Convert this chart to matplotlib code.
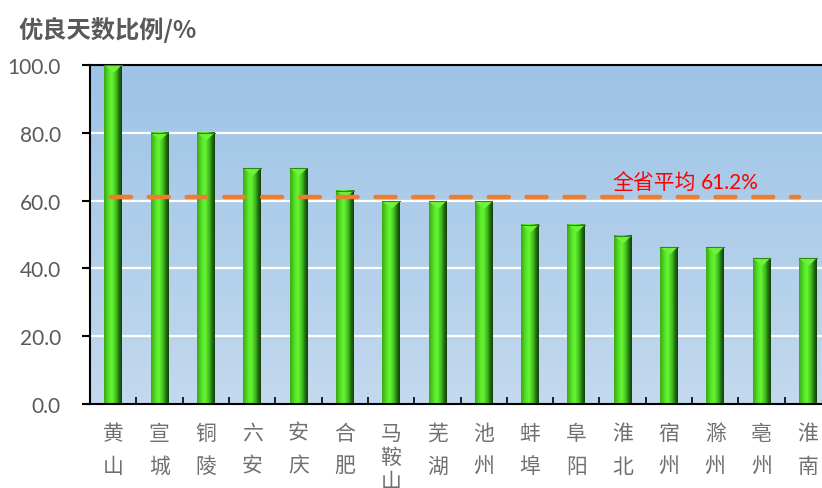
import numpy as np
import matplotlib
matplotlib.use("Agg")
import matplotlib.pyplot as plt
from matplotlib.colors import LinearSegmentedColormap
from matplotlib.patches import Polygon

plt.rcParams['font.family'] = ['Noto Sans CJK SC', 'DejaVu Sans']

cities = ["黄山", "宣城", "铜陵", "六安", "安庆", "合肥", "马鞍山", "芜湖", "池州",
          "蚌埠", "阜阳", "淮北", "宿州", "滁州", "亳州", "淮南"]
values = [100.0, 80.0, 80.0, 69.6, 69.6, 62.9, 59.8, 59.8, 59.8,
          52.9, 52.9, 49.6, 46.3, 46.3, 43.0, 43.0]
avg = 61.2
yticks = [0, 20, 40, 60, 80, 100]

fig = plt.figure(figsize=(8.22, 4.89), dpi=100)
ax = fig.add_axes([90/822, 1-405/489, 741/822, 339/489])

n = len(cities)
x = np.arange(n)
ax.set_xlim(-0.5, n-0.5)
ax.set_ylim(0, 100)

# background gradient
bg = LinearSegmentedColormap.from_list("bg", ["#c3d9ee", "#9dc3e6"])
ax.imshow(np.linspace(0, 1, 256).reshape(-1, 1), cmap=bg, aspect='auto',
          extent=(-0.5, n-0.5, 0, 100), origin='lower', zorder=0)

for t in yticks[1:-1]:
    ax.axhline(t, color='white', lw=1.6, zorder=1)

# bars with horizontal gradient shading
w = 0.38
bar_cmap = LinearSegmentedColormap.from_list(
    "bar", [(0, "#3aa818"), (0.3, "#5ae82a"), (0.45, "#66f533"), (0.7, "#3cb81c"),
            (0.85, "#226e12"), (1, "#16400b")])
grad = np.linspace(0, 1, 64).reshape(1, -1)
for xi, v in zip(x, values):
    ax.imshow(grad, cmap=bar_cmap, aspect='auto',
              extent=(xi-w/2, xi+w/2, 0, v), zorder=2)
    th = 2.2
    tri = Polygon([(xi-w/2, v), (xi+w/2, v), (xi+0.02, v-th)], closed=True,
                  facecolor="#6ef23c", edgecolor='none', zorder=3)
    ax.add_patch(tri)
    ax.plot([xi-w/2, xi+w/2], [v, v], color="#2f8a14", lw=0.8, zorder=3)

ax.set_xlim(-0.5, n-0.5)
ax.set_ylim(0, 100)

# average line
ax.plot([-0.05, 14.8], [avg, avg], color="#ed7d31", lw=3.2,
        dashes=(4.5, 4), zorder=4, solid_capstyle='round', dash_capstyle='round')
ax.text(10.77, avg+4.3, "全省平均", color="#ff0000", fontsize=15,
        ha='left', va='center', fontweight='light')
ax.text(12.69, avg+4.3, "61.2%", color="#ff0000", fontsize=15,
        ha='left', va='center', family=['Lato', 'DejaVu Sans'])

# axes styling
for s in ['left', 'bottom', 'top']:
    ax.spines[s].set_color('black')
    ax.spines[s].set_linewidth(1.5)
ax.spines['right'].set_visible(False)

ax.set_yticks(yticks)
ax.set_yticklabels([f"{t:.1f}" for t in yticks], family=['Lato', 'DejaVu Sans'],
                   fontsize=15, color="#595959")
ax.tick_params(axis='y', direction='out', length=6, width=1.5, color='black', pad=15)

ax.set_xticks(np.arange(-0.5, n, 1.0), minor=False)
ax.set_xticklabels([])
ax.tick_params(axis='x', direction='in', length=5, width=1.2, color='black')
for xi, c in zip(x, cities):
    ls = 1.65 if len(c) == 2 else 1.12
    ax.text(xi, -5.2, "\n".join(c), ha='center', va='top', fontsize=15,
            color="#707070", linespacing=ls, fontweight='light',
            transform=ax.transData, clip_on=False)

fig.text(18/822, 1-30/489, "优良天数比例/%", fontsize=17.5, fontweight='bold',
         color="#595959", ha='left', va='center')

fig.savefig("out.png", dpi=100)
